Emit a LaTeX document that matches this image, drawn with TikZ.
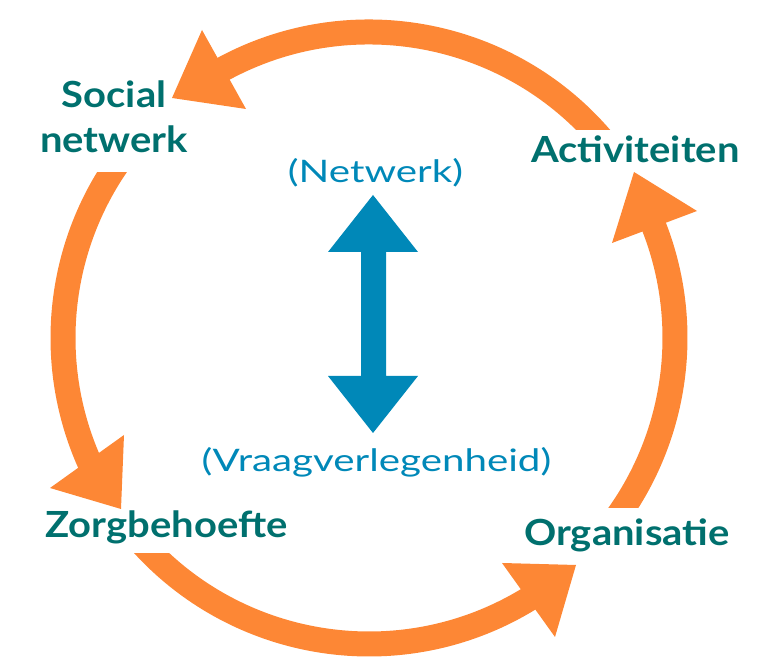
\documentclass[tikz,border=0pt]{standalone}
\usepackage{fontspec}
\setmainfont{Lato}
\newfontfamily\lblfont{Lato}[FakeStretch=1.11]
\newfontfamily\subfont{Lato}[FakeStretch=1.3]
\usetikzlibrary{calc}
\definecolor{cyorange}{RGB}{253,135,53}
\definecolor{cyteal}{RGB}{0,112,110}
\definecolor{cyblue}{RGB}{0,136,184}
\begin{document}
\begin{tikzpicture}[x=1pt,y=1pt,
  lbl/.style={text=cyteal,font=\lblfont\fontsize{36}{45}\selectfont\bfseries,inner sep=0pt},
  sub/.style={text=cyblue,font=\subfont\fontsize{31}{36}\selectfont,inner sep=0pt},
  band/.style={draw=cyorange,line width=25pt,line cap=butt},
  head/.style={fill=cyorange},
  dbl/.style={fill=cyblue}]
\useasboundingbox (0,0) rectangle (777,671);
\coordinate (C) at (369,333);
% labels
\node[lbl,anchor=north,align=center] (soc) at (114,590) {Social\\netwerk};
\node[lbl,anchor=base] (act) at (635.5,508) {Activiteiten};
\node[lbl,anchor=base] (zorg) at (166.5,133) {Zorgbehoefte};
\node[lbl,anchor=base] (org) at (627,125) {Organisatie};
\node[sub,anchor=base] (net) at (375.5,488) {(Netwerk)};
\node[sub,anchor=base] (vra) at (376.5,199) {(Vraagverlegenheid)};
% arc start coordinates
\coordinate (s1) at ($(C)+(36:306)$);
\coordinate (s2) at ($(C)+(140:306)$);
\coordinate (s3) at ($(C)+(218:306)$);
\coordinate (s4) at ($(C)+(-42:306)$);
% top arc: Activiteiten -> Social netwerk
\begin{scope}
\clip (0,541) rectangle (777,671);
\draw[band] (s1) arc[start angle=36,end angle=120,radius=306];
\end{scope}
\fill[head] (202,641) -- (246,562) -- (172,573) -- cycle;
% left arc: Social netwerk -> Zorgbehoefte
\begin{scope}
\clip (0,0) rectangle (777,498);
\draw[band] (s2) arc[start angle=140,end angle=205,radius=306];
\end{scope}
\fill[head] (124,236) -- (50,183) -- (121,162) -- cycle;
% bottom arc: Zorgbehoefte -> Organisatie
\begin{scope}
\clip (0,0) rectangle (777,117);
\draw[band] (s3) arc[start angle=218,end angle=302.5,radius=306];
\end{scope}
\fill[head] (502,108) -- (555,34) -- (576,106) -- cycle;
% right arc: Organisatie -> Activiteiten
\begin{scope}
\clip (0,163) rectangle (777,671);
\draw[band] (s4) arc[start angle=-42,end angle=22.5,radius=306];
\end{scope}
\fill[head] (612,428) -- (697,460) -- (634,499) -- cycle;
% blue double arrow
\coordinate (up) at (373,476);
\coordinate (dn) at (373,238);
\fill[dbl] (up) -- ($(up)+(45,-57)$) -- ($(up)+(13,-57)$) -- ($(dn)+(13,57)$)
  -- ($(dn)+(45,57)$) -- (dn) -- ($(dn)+(-45,57)$) -- ($(dn)+(-12,57)$)
  -- ($(up)+(-12,-57)$) -- ($(up)+(-45,-57)$) -- cycle;
\end{tikzpicture}
\end{document}
